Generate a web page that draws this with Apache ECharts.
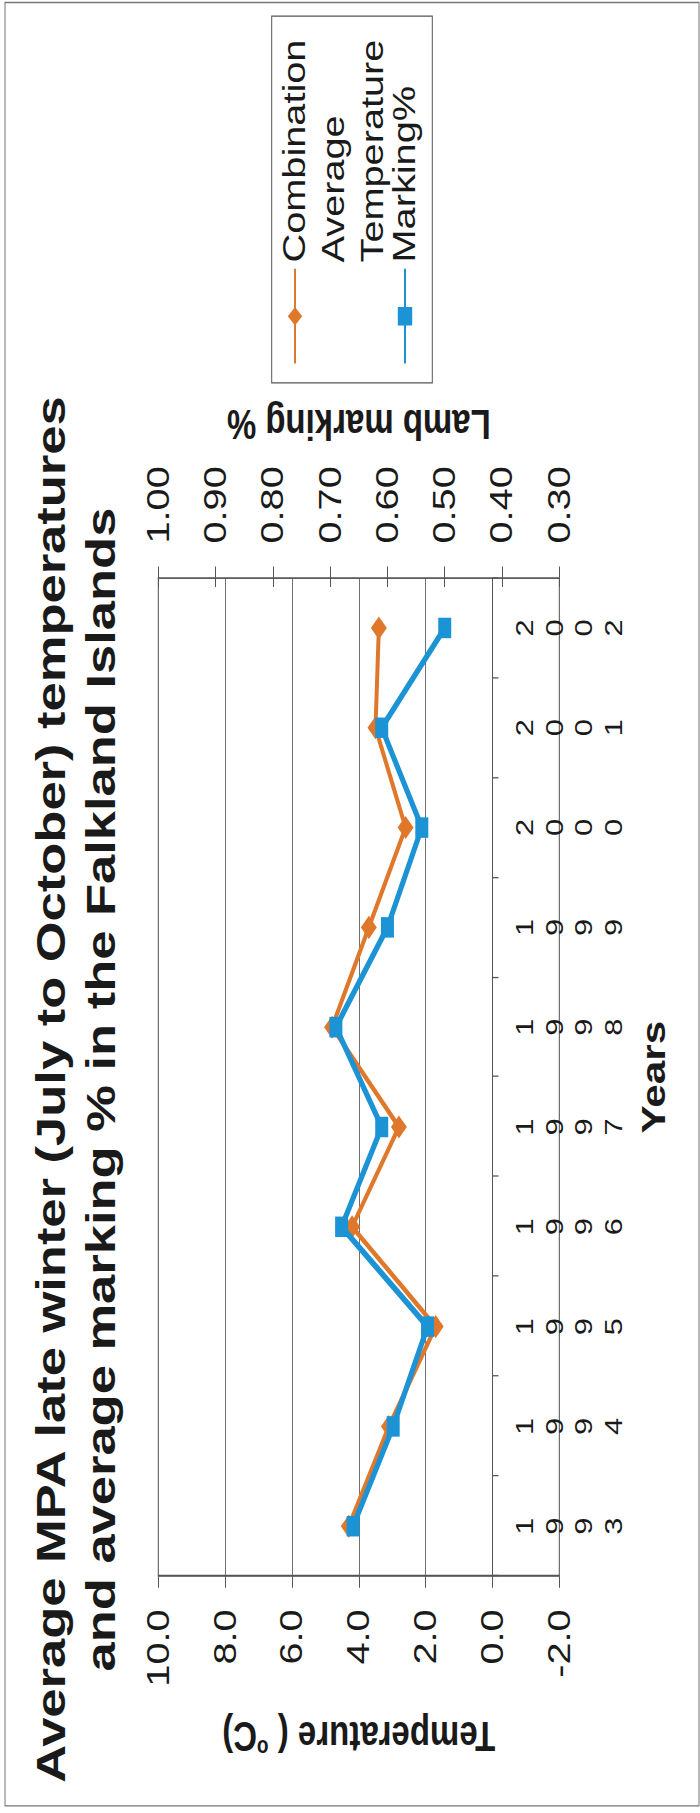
<!DOCTYPE html>
<html>
<head>
<meta charset="utf-8">
<title>Average MPA late winter temperatures and average marking %</title>
<script src="https://cdn.jsdelivr.net/npm/echarts@6/dist/echarts.min.js"></script>
<style>
  html, body { margin: 0; padding: 0; background: #fff; }
  #page { position: relative; width: 700px; height: 1813px; overflow: hidden; background: #fff; }
  /* The chart is laid out landscape, then turned a quarter-turn counter-clockwise
     and stretched along its long side to fill the portrait page. */
  #chart {
    position: absolute; left: 0; top: 0;
    width: 1416px; height: 700px;
    transform-origin: 0 0;
    transform: matrix(0, -1.2804, 1, 0, 0, 1813);
  }
</style>
</head>
<body>
<div id="page"><div id="chart"></div></div>
<script>
// Years on the category axis
const years = ['1993', '1994', '1995', '1996', '1997', '1998', '1999', '2000', '2001', '2002'];
// Combination average late-winter temperature (°C)
const avgTemperature = [4.3, 3.1, 1.7, 4.2, 2.8, 4.8, 3.7, 2.6, 3.5, 3.4];
// Lamb marking (fraction)
const markingPct = [0.66, 0.59, 0.53, 0.68, 0.61, 0.69, 0.60, 0.54, 0.61, 0.50];
// Axis ranges: [min, max, interval]
const temperatureRange = [-2, 10, 2];
const markingRange = [0.3, 1.0, 0.1];

const seriesNames = ['Combination\nAverage\nTemperature', 'Marking%'];

const FONT = "'Liberation Sans', Arial, Helvetica, sans-serif";
const INK = '#1a1a1a';
const ORANGE = '#E0782C';
const BLUE = '#1C93D5';

const chart = echarts.init(document.getElementById('chart'), null, {
  renderer: 'svg', width: 1416, height: 700
});

const legendLine = { fontFamily: FONT, fontSize: 31, lineHeight: 39, color: INK };
const legendText = {
  fontFamily: FONT, fontSize: 31, lineHeight: 39, color: INK,
  overflow: 'none', rich: { t: legendLine }
};
// each legend line as its own rich token so the size is kept per line
const legendLines = name => name.split('\n').map(s => '{t|' + s + '}').join('\n');

chart.setOption({
  animation: false,
  backgroundColor: '#fff',
  textStyle: { fontFamily: FONT, color: INK },
  title: {
    text: 'Average MPA late winter (July to October) temperatures\nand average marking % in the Falkland Islands',
    left: 565,
    top: 26,
    padding: 0,
    textAlign: 'center',
    textStyle: { fontFamily: FONT, fontSize: 41, fontWeight: 'bold', lineHeight: 50, color: INK }
  },
  legend: [
    {
      data: [seriesNames[0]],
      orient: 'vertical',
      left: 1131, top: 197.5,
      padding: 0,
      itemWidth: 74, itemHeight: 18, itemGap: 0,
      // two empty lines above keep the first line level with the symbol
      formatter: name => '{t| }\n{t| }\n' + legendLines(name),
      textStyle: legendText
    },
    {
      data: [seriesNames[1]],
      orient: 'vertical',
      left: 1131, top: 385.5,
      padding: 0,
      itemWidth: 74, itemHeight: 18, itemGap: 0,
      formatter: legendLines,
      textStyle: legendText
    }
  ],
  graphic: [
    { type: 'rect', silent: true, z: -1,
      shape: { x: 5.5, y: 5, width: 1408.5, height: 694 },
      style: { fill: 'none', stroke: '#777', lineWidth: 1 } },
    { type: 'rect', silent: true,
      shape: { x: 1117, y: 271.7, width: 286.4, height: 160.6 },
      style: { fill: 'none', stroke: '#555', lineWidth: 1 } }
  ],
  grid: {
    left: 185, right: 451.5, top: 158.3, bottom: 140.7,
    outerBoundsMode: 'none',
    containLabel: false,
    show: true, borderColor: '#555', borderWidth: 1, backgroundColor: 'transparent'
  },
  xAxis: {
    type: 'category',
    data: years,
    boundaryGap: true,
    name: 'Years',
    nameLocation: 'middle',
    nameGap: 59,
    nameTextStyle: { fontFamily: FONT, fontSize: 33, fontWeight: 'bold', lineHeight: 40, color: INK },
    axisLine: { onZero: true, onZeroAxisIndex: 0, lineStyle: { color: '#555', width: 1 } },
    axisTick: { show: true, alignWithLabel: false, interval: 0, length: 6, lineStyle: { color: '#555' } },
    axisLabel: {
      interval: 0, margin: -49,
      fontFamily: FONT, fontSize: 24, lineHeight: 29.5, color: INK,
      formatter: v => v.split('').join('\n')
    },
    splitLine: { show: false }
  },
  yAxis: [
    {
      type: 'value', position: 'left',
      min: temperatureRange[0], max: temperatureRange[1], interval: temperatureRange[2],
      name: 'Temperature ( {sup|o}C)',
      nameLocation: 'middle', nameRotate: 90, nameGap: 106,
      nameTextStyle: {
        fontFamily: FONT, fontSize: 33, fontWeight: 'bold', lineHeight: 38, color: INK,
        rich: { sup: { fontFamily: FONT, fontSize: 19, fontWeight: 'bold', lineHeight: 19, verticalAlign: 'top', color: INK } }
      },
      axisLine: { show: true, lineStyle: { color: '#555', width: 1 } },
      axisTick: { show: true, inside: false, length: 9, lineStyle: { color: '#555' } },
      axisLabel: { margin: 26, fontFamily: FONT, fontSize: 31, color: INK, formatter: v => v.toFixed(1) },
      splitLine: { show: true, lineStyle: { color: '#707070', width: 1 } }
    },
    {
      type: 'value', position: 'right',
      min: markingRange[0], max: markingRange[1], interval: markingRange[2],
      name: 'Lamb marking %',
      nameLocation: 'middle', nameRotate: 90, nameGap: 101,
      nameTextStyle: { fontFamily: FONT, fontSize: 33, fontWeight: 'bold', lineHeight: 38, color: INK },
      axisLine: { show: true, lineStyle: { color: '#555', width: 1 } },
      axisTick: { show: true, inside: false, length: 9, lineStyle: { color: '#555' } },
      axisLabel: { margin: 27, fontFamily: FONT, fontSize: 31, color: INK, formatter: v => v.toFixed(2) },
      splitLine: { show: false }
    },
    {
      // inner half of the crossing ticks on the marking axis
      type: 'value', position: 'right',
      min: markingRange[0], max: markingRange[1], interval: markingRange[2],
      axisLine: { show: false },
      axisTick: { show: true, inside: true, length: 7, lineStyle: { color: '#555' } },
      axisLabel: { show: false },
      splitLine: { show: false }
    }
  ],
  series: [
    {
      name: seriesNames[0],
      type: 'line',
      yAxisIndex: 0,
      data: avgTemperature,
      symbol: 'diamond',
      symbolSize: [18, 16],
      color: ORANGE,
      itemStyle: { color: ORANGE },
      lineStyle: { color: ORANGE, width: 4 },
      z: 2
    },
    {
      name: seriesNames[1],
      type: 'line',
      yAxisIndex: 1,
      data: markingPct,
      symbol: 'rect',
      symbolSize: [16, 13],
      color: BLUE,
      itemStyle: { color: BLUE },
      lineStyle: { color: BLUE, width: 5 },
      z: 3
    }
  ]
});
</script>
</body>
</html>
